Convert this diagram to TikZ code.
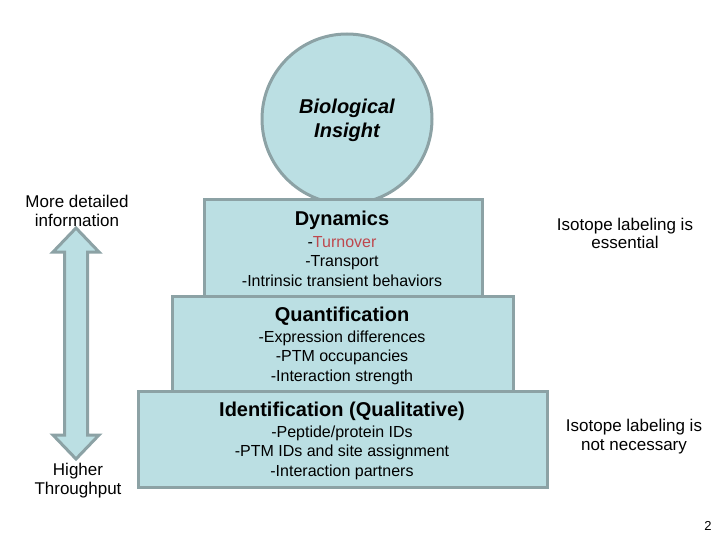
\documentclass[tikz,border=0pt]{standalone}
\usepackage{fontspec}
\setmainfont{Liberation Sans}
\usetikzlibrary{calc}

\definecolor{tealfill}{RGB}{187,223,227}
\definecolor{tealedge}{RGB}{140,162,165}
\definecolor{turnred}{RGB}{190,72,78}

\begin{document}
\begin{tikzpicture}[x=1pt,y=-1pt,
  layer/.style={draw=tealedge,line width=3pt,fill=tealfill,inner sep=0pt},
  head/.style={font=\bfseries\fontsize{20}{24}\selectfont,align=center},
  items/.style={font=\fontsize{16}{19.5}\selectfont,align=center},
  side/.style={font=\fontsize{17}{18.5}\selectfont,align=center}]
  \useasboundingbox (0,0) rectangle (720,540);
  % top of the pyramid
  \node[layer,circle,minimum size=170pt] (insight) at (347,119) {};
  \node[head] (insighttxt) at (347,120) {\itshape Biological\\\itshape Insight};
  % the three layers
  \node[layer,minimum width=278pt,minimum height=96pt] (dyn) at (343,248) {};
  \node[layer,minimum width=341pt,minimum height=95pt] (quant) at (342.5,343.5) {};
  \node[layer,minimum width=409pt,minimum height=96pt] (ident) at (342.5,439) {};
  \node[head] (dynhead) at (342,220) {Dynamics};
  \node[items] (dynlist) at (342,261.5) {-\textcolor{turnred}{Turnover}\\-Transport\\-Intrinsic transient behaviors};
  \node[head] (quanthead) at (342,316) {Quantification};
  \node[items] (quantlist) at (342,357.5) {-Expression differences\\-PTM occupancies\\-Interaction strength};
  \node[head] (identhead) at (342,411) {Identification (Qualitative)};
  \node[items] (identlist) at (342,452.5) {-Peptide/protein IDs\\-PTM IDs and site assignment\\-Interaction partners};
  % left scale
  \node[side] (detail) at (77,211) {More detailed\\information};
  \node[side] (through) at (78,480.5) {Higher\\Throughput};
  \coordinate (uptip) at (76,228);
  \coordinate (downtip) at (76,459);
  \draw[draw=tealedge,line width=3pt,fill=tealfill,line join=miter]
    (uptip) -- ++(23,24) -- ++(-11.5,0) -- ($(downtip)+(11.5,-24)$) -- ++(11.5,0)
    -- (downtip) -- ++(-23,-24) -- ++(11.5,0) -- ($(uptip)+(-11.5,24)$) -- ++(-11.5,0) -- cycle;
  % right notes
  \node[side] (needed) at (625,233.5) {Isotope labeling is\\essential};
  \node[side] (notneeded) at (634,436.5) {Isotope labeling is\\not necessary};
  \node[font=\fontsize{13}{15}\selectfont] (page) at (708,526) {2};
\end{tikzpicture}
\end{document}
